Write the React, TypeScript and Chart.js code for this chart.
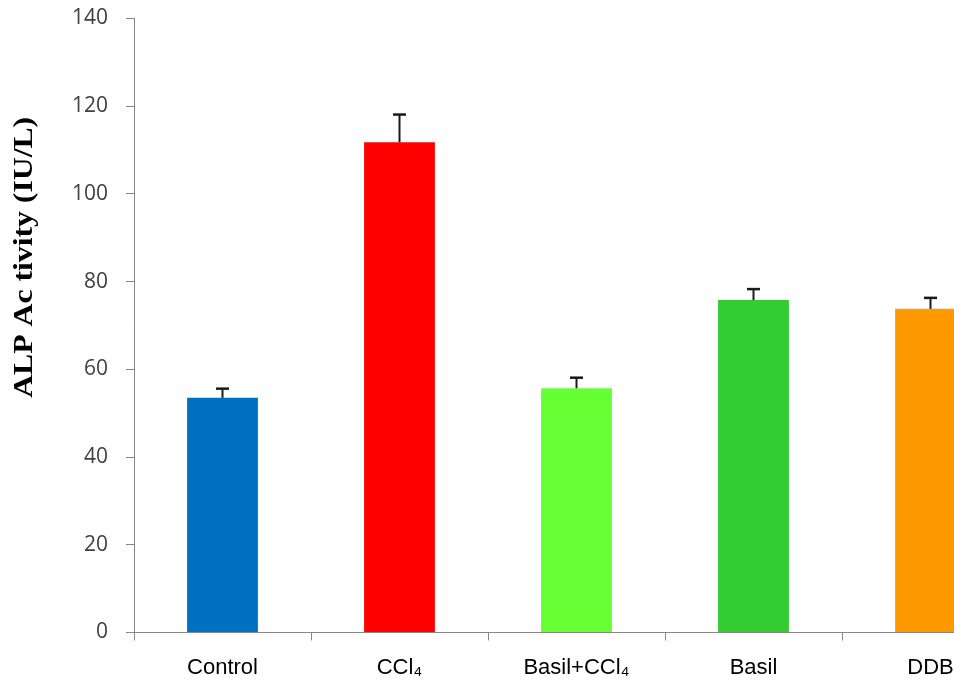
import React, { useEffect, useRef } from "react";
import { Chart, registerables } from "chart.js";

Chart.register(...registerables);

const categories = ["Control", "CCl\u2084", "Basil+CCl\u2084", "Basil", "DDB"];
const values = [53.5, 111.8, 55.7, 75.8, 73.8];
const errors = [2.1, 6.3, 2.4, 2.5, 2.5];
const barColors = ["#0070C0", "#FF0000", "#66FF33", "#33CC33", "#FF9900"];
const yMin = 0;
const yMax = 140;
const yStep = 20;
const yTitle = "ALP Ac tivity (IU/L)";

const errorBarPlugin = {
  id: "errorBars",
  afterDatasetsDraw(chart: any) {
    const meta = chart.getDatasetMeta(0);
    const yScale = chart.scales.y;
    const ctx = chart.ctx;
    ctx.save();
    ctx.strokeStyle = "#1a1a1a";
    ctx.lineWidth = 2;
    meta.data.forEach((bar: any, i: number) => {
      const x = bar.x;
      const yTop = yScale.getPixelForValue(values[i] + errors[i]);
      ctx.beginPath();
      ctx.moveTo(x, bar.y);
      ctx.lineTo(x, yTop);
      ctx.stroke();
      ctx.beginPath();
      ctx.lineWidth = 2.5;
      ctx.moveTo(x - 6.5, yTop);
      ctx.lineTo(x + 6.5, yTop);
      ctx.stroke();
      ctx.lineWidth = 2;
    });
    ctx.restore();
  },
};

const yTitlePlugin = {
  id: "yTitleStretched",
  afterDraw(chart: any) {
    const ctx = chart.ctx;
    const area = chart.chartArea;
    ctx.save();
    ctx.font = "bold 28px 'Liberation Serif', 'Times New Roman', serif";
    ctx.fillStyle = "#000000";
    const measured = ctx.measureText(yTitle).width;
    const target = 281;
    const cx = 25;
    const cy = area.top + (area.bottom - area.top) * 0.389;
    ctx.translate(cx, cy);
    ctx.rotate(-Math.PI / 2);
    ctx.scale(target / measured, 1);
    ctx.textAlign = "center";
    ctx.textBaseline = "middle";
    ctx.fillText(yTitle, 0, 0);
    ctx.restore();
  },
};

export default function App() {
  const canvasRef = useRef<HTMLCanvasElement | null>(null);

  useEffect(() => {
    if (!canvasRef.current) return;
    const chart = new Chart(canvasRef.current, {
      type: "bar",
      data: {
        labels: categories,
        datasets: [
          {
            data: values,
            backgroundColor: barColors,
            borderWidth: 0,
            categoryPercentage: 1,
            barPercentage: 0.4,
          },
        ],
      },
      options: {
        animation: false,
        responsive: true,
        maintainAspectRatio: false,
        layout: { padding: { top: 18.5, right: 11, left: 0, bottom: 0 } },
        plugins: {
          legend: { display: false },
          tooltip: { enabled: false },
        },
        scales: {
          x: {
            grid: {
              display: true,
              drawOnChartArea: false,
              drawTicks: true,
              tickLength: 8,
              color: "#868686",
              offset: true,
            },
            border: { color: "#868686", width: 1 },
            ticks: {
              color: "#000000",
              font: { family: "'Liberation Sans', Arial, sans-serif", size: 22 },
              padding: 14,
              maxRotation: 0,
              autoSkip: false,
            },
            afterFit(scale: any) {
              scale.height = 47.5;
            },
          },
          y: {
            min: yMin,
            max: yMax,
            grid: {
              display: true,
              drawOnChartArea: false,
              drawTicks: true,
              tickLength: 8,
              color: "#868686",
            },
            border: { color: "#868686", width: 1 },
            ticks: {
              stepSize: yStep,
              color: "#404040",
              font: { family: "'Open Sans', sans-serif", size: 21 },
              padding: 18,
            },
            afterFit(scale: any) {
              scale.width = 134;
              scale.paddingTop = 0;
              scale.paddingBottom = 0;
            },
          },
        },
      },
      plugins: [errorBarPlugin, yTitlePlugin],
    });
    return () => chart.destroy();
  }, []);

  return (
    <div
      style={{
        position: "fixed",
        left: 0,
        top: 0,
        width: 954,
        height: 680,
        overflow: "hidden",
        background: "#ffffff",
      }}
    >
      <div style={{ position: "absolute", left: 0, top: 0, width: 1030, height: 680 }}>
        <canvas ref={canvasRef} />
      </div>
    </div>
  );
}
